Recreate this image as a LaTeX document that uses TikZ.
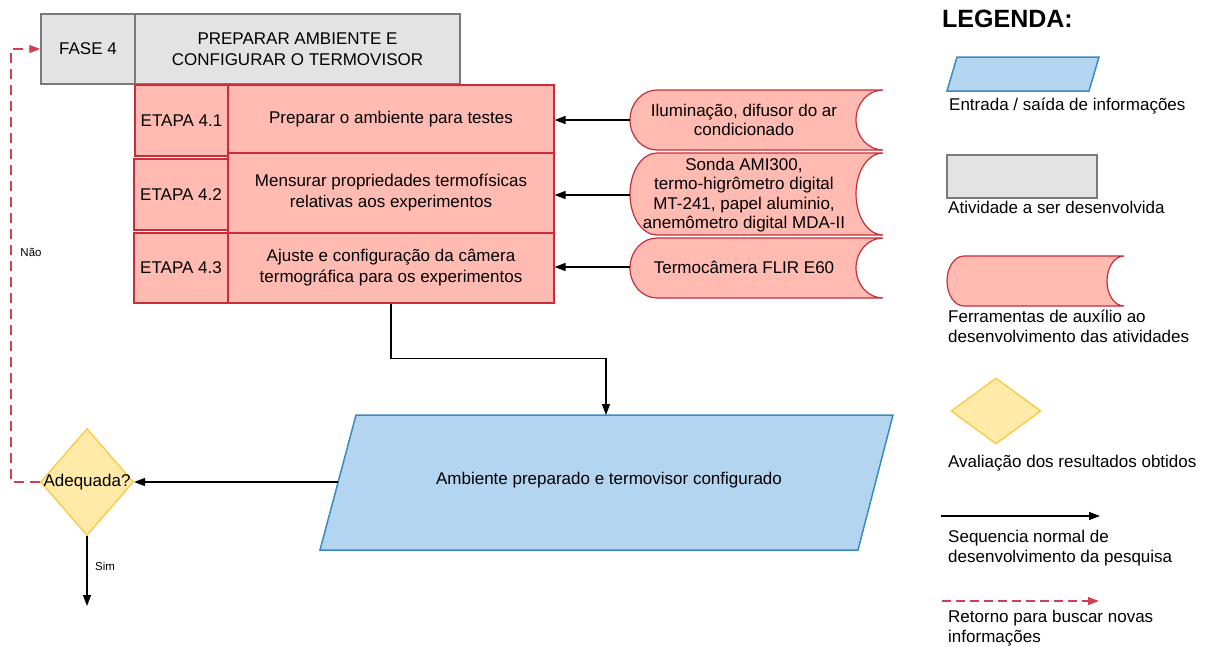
\documentclass[tikz,border=0pt]{standalone}
\usepackage{fontspec}
\setmainfont{Liberation Sans}
\usetikzlibrary{shapes.geometric,arrows.meta}
\definecolor{grayfill}{HTML}{E3E3E3}
\definecolor{grayline}{HTML}{7A7A7A}
\definecolor{pinkfill}{HTML}{FFBBB1}
\definecolor{redline}{HTML}{C92D39}
\definecolor{bluefill}{HTML}{B3D5EF}
\definecolor{blueline}{HTML}{3A8BC2}
\definecolor{yelfill}{HTML}{FFEAA7}
\definecolor{yelline}{HTML}{FCC438}
\definecolor{dashred}{HTML}{D04050}
\newcommand\drawtool[5]{%
 \pgfmathsetmacro\toolYm{(#2+#4)/2}%
 \pgfmathsetmacro\toolKy{0.5523*(#4-#2)/2}%
 \pgfmathsetmacro\toolKx{0.5523*#5}%
 \draw[toolshape] ({#1+#5},#2) -- (#3,#2)
 .. controls ({#3-\toolKx},#2) and ({#3-#5},{\toolYm-\toolKy}) .. ({#3-#5},\toolYm)
 .. controls ({#3-#5},{\toolYm+\toolKy}) and ({#3-\toolKx},#4) .. (#3,#4)
 -- ({#1+#5},#4)
 .. controls ({#1+#5-\toolKx},#4) and (#1,{\toolYm+\toolKy}) .. (#1,\toolYm)
 .. controls (#1,{\toolYm-\toolKy}) and ({#1+#5-\toolKx},#2) .. cycle;}
\begin{document}
\begin{tikzpicture}[x=1pt,y=-1pt,
 txt/.style={inner sep=0pt, font=\fontsize{17}{21}\selectfont, align=center},
 graybox/.style={txt, draw=grayline, fill=grayfill, line width=1.5pt},
 pinkbox/.style={txt, draw=redline, fill=pinkfill, line width=1.2pt},
 tooltxt/.style={inner sep=0pt, font=\fontsize{17}{19.5}\selectfont, align=center},
 toolshape/.style={draw=redline, fill=pinkfill, line width=1.2pt},
 iostyle/.style={draw=blueline, fill=bluefill, line width=1.5pt},
 decision/.style={diamond, draw=yelline, fill=yelfill, line width=1.2pt, inner sep=0pt},
 arr/.style={line width=1.4pt, -{Triangle[length=11pt,width=8pt]}},
 retarr/.style={draw=dashred, line width=1.2pt, dash pattern=on 10pt off 6pt, -{Triangle[length=11pt,width=8pt]}, color=dashred},
 legtxt/.style={inner sep=0pt, anchor=base west, font=\fontsize{17}{20}\selectfont},
 small/.style={inner sep=0pt, font=\fontsize{11.5}{13}\selectfont},
]
\useasboundingbox (0,0) rectangle (1211,646);
% phase boxes
\node[graybox, minimum width=94, minimum height=70] (fase) at (88,49) {FASE 4};
\node[graybox, minimum width=325, minimum height=70] (titulo) at (297.5,49) {PREPARAR AMBIENTE E\\CONFIGURAR O TERMOVISOR};
% steps
\node[pinkbox, minimum width=93, minimum height=71] (e1) at (181.5,120.5) {ETAPA 4.1};
\node[pinkbox, minimum width=94, minimum height=71] (e2) at (181,194.5) {ETAPA 4.2};
\node[pinkbox, minimum width=94, minimum height=70] (e3) at (181,268) {ETAPA 4.3};
\node[pinkbox, minimum width=326, minimum height=68] (s1) at (391,119) {Preparar o ambiente para testes};
\node[pinkbox, minimum width=326, minimum height=80] (s2) at (391,193) {Mensurar propriedades termofísicas\\relativas aos experimentos};
\node[pinkbox, minimum width=326, minimum height=70] (s3) at (391,268) {Ajuste e configuração da câmera\\termográfica para os experimentos};
% tools
\drawtool{630}{90}{883}{150}{27}
\drawtool{630}{153}{883}{235}{27}
\drawtool{630}{238}{883}{298}{27}
\node[tooltxt, minimum width=228] (t1) at (744,120) {Iluminação, difusor do ar\\condicionado};
\node[tooltxt, minimum width=228] (t2) at (744,195) {Sonda AMI300,\\termo-higrômetro digital\\MT-241, papel aluminio,\\anemômetro digital MDA-II};
\node[tooltxt, minimum width=228] (t3) at (744,267) {Termocâmera FLIR E60};
\draw[arr] (t1.west) -- (t1.west -| s1.east);
\draw[arr] (t2.west) -- (t2.west -| s2.east);
\draw[arr] (t3.west) -- (t3.west -| s3.east);
% output
\draw[iostyle] (356,415) -- (893,415) -- (858,550) -- (320,550) -- cycle;
\node[txt] (io) at (609,480) {Ambiente preparado e termovisor configurado};
\coordinate (ioL) at (338,482);
\coordinate (ioT) at (606,415);
\draw[arr] (s3.south) -- ++(0,55) -| (ioT);
% decision
\node[decision, minimum width=93, minimum height=107] (d) at (87,482) {};
\node[txt] (dl) at (d.center) {Adequada?};
\draw[arr] (ioL) -- (d.east);
\coordinate (fim) at (87,606);
\draw[arr] (d.south) -- (fim);
\node[small] (sim) at (105,566) {Sim};
\draw[retarr] (d.west) -- ++(-29,0) |- (fase.west);
\node[small] (nao) at (31,252) {Não};
% legend
\node[inner sep=0pt, anchor=base west, font=\fontsize{25}{28}\selectfont\bfseries] (leg) at (942,27) {LEGENDA:};
\draw[iostyle] (957,57) -- (1099,57) -- (1089,91) -- (947,91) -- cycle;
\node[legtxt] (lt1) at (949,110) {Entrada / saída de informações};
\node[draw=grayline, fill=grayfill, line width=1.5pt, minimum width=150, minimum height=43, inner sep=0pt] (lgr) at (1022,176.5) {};
\node[legtxt] (lt2) at (948,213) {Atividade a ser desenvolvida};
\drawtool{947}{256}{1124}{306}{17}
\node[legtxt] (lt3a) at (948,322) {Ferramentas de auxílio ao};
\node[legtxt] (lt3b) at (948,342) {desenvolvimento das atividades};
\node[decision, minimum width=90, minimum height=66] (ldec) at (996,411) {};
\node[legtxt] (lt4) at (948,467) {Avaliação dos resultados obtidos};
\coordinate (la1) at (941,516);
\coordinate (la2) at (1100,516);
\draw[arr] (la1) -- (la2);
\node[legtxt] (lt5a) at (948,542) {Sequencia normal de};
\node[legtxt] (lt5b) at (948,562) {desenvolvimento da pesquisa};
\coordinate (lr1) at (942,601);
\coordinate (lr2) at (1099,601);
\draw[retarr, dash pattern=on 9pt off 5pt] (lr1) -- (lr2);
\node[legtxt] (lt6a) at (948,622) {Retorno para buscar novas};
\node[legtxt] (lt6b) at (948,642) {informações};
\end{tikzpicture}
\end{document}
